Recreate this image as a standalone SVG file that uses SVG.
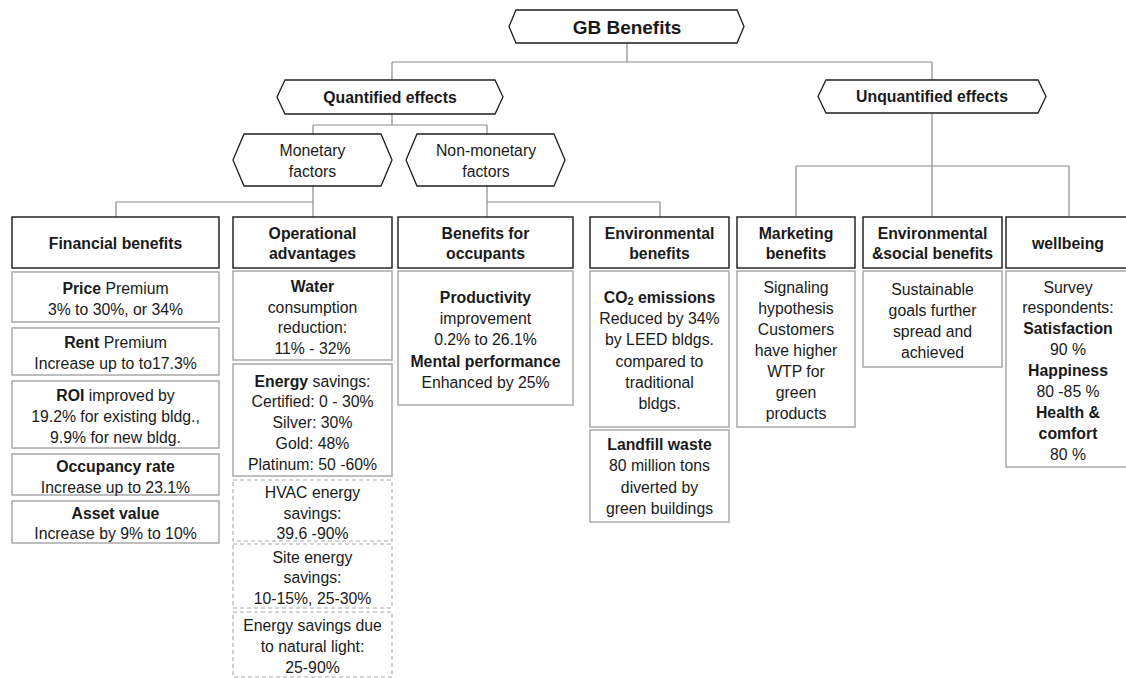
<svg xmlns="http://www.w3.org/2000/svg" width="1126" height="678" viewBox="0 0 1126 678">
  <style>
    text { font-family: "Liberation Sans", Arial, sans-serif; font-size: 15.8px; fill: #1a1a1a; text-anchor: middle; dominant-baseline: central; }
    .b { font-weight: bold; }
    .title { font-size: 19px; font-weight: bold; }
    .hex { fill: #ffffff; stroke: #1e1e1e; stroke-width: 1.3; }
    .head { fill: #ffffff; stroke: #262626; stroke-width: 1.5; }
    .box { fill: #ffffff; stroke: #a9a9a9; stroke-width: 1.5; }
    .dash { fill: #ffffff; stroke: #a9a9a9; stroke-width: 1.1; stroke-dasharray: 4 3; }
    .conn { fill: none; stroke: #8c8c8c; stroke-width: 1.2; }
    .sub { font-size: 11px; }
  </style>

  <!-- connectors -->
  <g id="connectors" class="conn">
    <path d="M627 43 V62 M392 62 H932 M392 62 V80 M932 62 V80"/>
    <path d="M392 114 V125 M313 125 H487 M313 125 V134 M487 125 V134"/>
    <path d="M313 186 V217 M116 202 H313 M116 202 V217"/>
    <path d="M487 186 V217 M487 202 H660 M660 202 V217"/>
    <path d="M932 114 V216 M796 166 H1069 M796 166 V216 M1069 166 V216"/>
  </g>

  <!-- top level -->
  <g id="gb-benefits">
    <polygon class="hex" points="509,26.5 516,10 737,10 744,26.5 737,43 516,43"/>
    <text class="title" x="627" y="27">GB Benefits</text>
  </g>
  <g id="quantified">
    <polygon class="hex" points="277,97 285,80 495,80 503,97 495,114 285,114"/>
    <text class="b" x="390" y="97">Quantified effects</text>
  </g>
  <g id="unquantified">
    <polygon class="hex" points="818,96.5 826,80 1038,80 1046,96.5 1038,113 826,113"/>
    <text class="b" x="932" y="96.5">Unquantified effects</text>
  </g>
  <g id="monetary">
    <polygon class="hex" points="233,160 244,134 381,134 392,160 381,186 244,186"/>
    <text x="312.5" y="150">Monetary</text>
    <text x="312.5" y="171">factors</text>
  </g>
  <g id="non-monetary">
    <polygon class="hex" points="406,160 417,134 554,134 565,160 554,186 417,186"/>
    <text x="486" y="150">Non-monetary</text>
    <text x="486" y="171">factors</text>
  </g>

  <!-- financial benefits -->
  <g id="financial">
    <rect class="head" x="12" y="217" width="207" height="51"/>
    <text class="b" x="115.5" y="243">Financial benefits</text>
  </g>
  <g id="price">
    <rect class="box" x="12" y="272" width="207" height="50"/>
    <text x="115.5" y="288"><tspan class="b">Price</tspan> Premium</text>
    <text x="115.5" y="309">3% to 30%, or 34%</text>
  </g>
  <g id="rent">
    <rect class="box" x="12" y="328" width="207" height="47"/>
    <text x="115.5" y="342"><tspan class="b">Rent</tspan> Premium</text>
    <text x="115.5" y="363">Increase up to to17.3%</text>
  </g>
  <g id="roi">
    <rect class="box" x="12" y="381" width="207" height="67"/>
    <text x="115.5" y="395"><tspan class="b">ROI</tspan> improved by</text>
    <text x="115.5" y="416">19.2% for existing bldg.,</text>
    <text x="115.5" y="437">9.9% for new bldg.</text>
  </g>
  <g id="occupancy">
    <rect class="box" x="12" y="454" width="207" height="41"/>
    <text class="b" x="115.5" y="466">Occupancy rate</text>
    <text x="115.5" y="487">Increase up to 23.1%</text>
  </g>
  <g id="asset">
    <rect class="box" x="12" y="501" width="207" height="42"/>
    <text class="b" x="115.5" y="513">Asset value</text>
    <text x="115.5" y="533">Increase by 9% to 10%</text>
  </g>

  <!-- operational advantages -->
  <g id="operational">
    <rect class="head" x="233" y="217" width="159" height="51"/>
    <text class="b" x="312.5" y="233">Operational</text>
    <text class="b" x="312.5" y="253">advantages</text>
  </g>
  <g id="water">
    <rect class="box" x="233" y="271" width="159" height="89"/>
    <text class="b" x="312.5" y="286">Water</text>
    <text x="312.5" y="307">consumption</text>
    <text x="312.5" y="327">reduction:</text>
    <text x="312.5" y="348">11% - 32%</text>
  </g>
  <g id="energy">
    <rect class="box" x="233" y="364" width="159" height="112"/>
    <text x="312.5" y="381"><tspan class="b">Energy</tspan> savings:</text>
    <text x="312.5" y="401">Certified: 0 - 30%</text>
    <text x="312.5" y="422">Silver: 30%</text>
    <text x="312.5" y="443">Gold: 48%</text>
    <text x="312.5" y="464">Platinum: 50 -60%</text>
  </g>
  <g id="hvac">
    <rect class="dash" x="233" y="480" width="159" height="61"/>
    <text x="312.5" y="492">HVAC energy</text>
    <text x="312.5" y="513">savings:</text>
    <text x="312.5" y="533">39.6 -90%</text>
  </g>
  <g id="site">
    <rect class="dash" x="233" y="544" width="159" height="64"/>
    <text x="312.5" y="557">Site energy</text>
    <text x="312.5" y="577">savings:</text>
    <text x="312.5" y="598">10-15%, 25-30%</text>
  </g>
  <g id="natural-light">
    <rect class="dash" x="233" y="612" width="159" height="65"/>
    <text x="312.5" y="625">Energy savings due</text>
    <text x="312.5" y="646">to natural light:</text>
    <text x="312.5" y="667">25-90%</text>
  </g>

  <!-- benefits for occupants -->
  <g id="occupants">
    <rect class="head" x="398" y="217" width="175" height="51"/>
    <text class="b" x="485.5" y="233">Benefits for</text>
    <text class="b" x="485.5" y="253">occupants</text>
  </g>
  <g id="productivity">
    <rect class="box" x="398" y="271" width="175" height="134"/>
    <text class="b" x="485.5" y="297">Productivity</text>
    <text x="485.5" y="318">improvement</text>
    <text x="485.5" y="339">0.2% to 26.1%</text>
    <text class="b" x="485.5" y="361">Mental performance</text>
    <text x="485.5" y="382">Enhanced by 25%</text>
  </g>

  <!-- environmental benefits -->
  <g id="environmental">
    <rect class="head" x="590" y="217" width="139" height="51"/>
    <text class="b" x="659.5" y="233">Environmental</text>
    <text class="b" x="659.5" y="253">benefits</text>
  </g>
  <g id="co2">
    <rect class="box" x="590" y="271" width="139" height="156"/>
    <text class="b" x="659.5" y="297">CO<tspan class="sub" dy="4">2</tspan><tspan dy="-4"> emissions</tspan></text>
    <text x="659.5" y="318">Reduced by 34%</text>
    <text x="659.5" y="339">by LEED bldgs.</text>
    <text x="659.5" y="361">compared to</text>
    <text x="659.5" y="382">traditional</text>
    <text x="659.5" y="403">bldgs.</text>
  </g>
  <g id="landfill">
    <rect class="box" x="590" y="430" width="139" height="92"/>
    <text class="b" x="659.5" y="444">Landfill waste</text>
    <text x="659.5" y="465">80 million tons</text>
    <text x="659.5" y="487">diverted by</text>
    <text x="659.5" y="508">green buildings</text>
  </g>

  <!-- marketing benefits -->
  <g id="marketing">
    <rect class="head" x="737" y="217" width="118" height="51"/>
    <text class="b" x="796" y="233">Marketing</text>
    <text class="b" x="796" y="253">benefits</text>
  </g>
  <g id="signaling">
    <rect class="box" x="737" y="271" width="118" height="156"/>
    <text x="796" y="287">Signaling</text>
    <text x="796" y="308">hypothesis</text>
    <text x="796" y="329">Customers</text>
    <text x="796" y="350">have higher</text>
    <text x="796" y="371">WTP for</text>
    <text x="796" y="392">green</text>
    <text x="796" y="413">products</text>
  </g>

  <!-- environmental & social benefits -->
  <g id="env-social">
    <rect class="head" x="863" y="217" width="139" height="51"/>
    <text class="b" x="932.5" y="233">Environmental</text>
    <text class="b" x="932.5" y="253">&amp;social benefits</text>
  </g>
  <g id="sustainable">
    <rect class="box" x="863" y="271" width="139" height="96"/>
    <text x="932.5" y="289">Sustainable</text>
    <text x="932.5" y="310">goals further</text>
    <text x="932.5" y="331">spread and</text>
    <text x="932.5" y="352">achieved</text>
  </g>

  <!-- wellbeing -->
  <g id="wellbeing">
    <rect class="head" x="1006" y="217" width="124" height="51"/>
    <text class="b" x="1068" y="243">wellbeing</text>
  </g>
  <g id="survey">
    <rect class="box" x="1006" y="271" width="124" height="196"/>
    <text x="1068" y="287">Survey</text>
    <text x="1068" y="307">respondents:</text>
    <text class="b" x="1068" y="328">Satisfaction</text>
    <text x="1068" y="349">90 %</text>
    <text class="b" x="1068" y="370">Happiness</text>
    <text x="1068" y="391">80 -85 %</text>
    <text class="b" x="1068" y="412">Health &amp;</text>
    <text class="b" x="1068" y="433">comfort</text>
    <text x="1068" y="454">80 %</text>
  </g>
</svg>
